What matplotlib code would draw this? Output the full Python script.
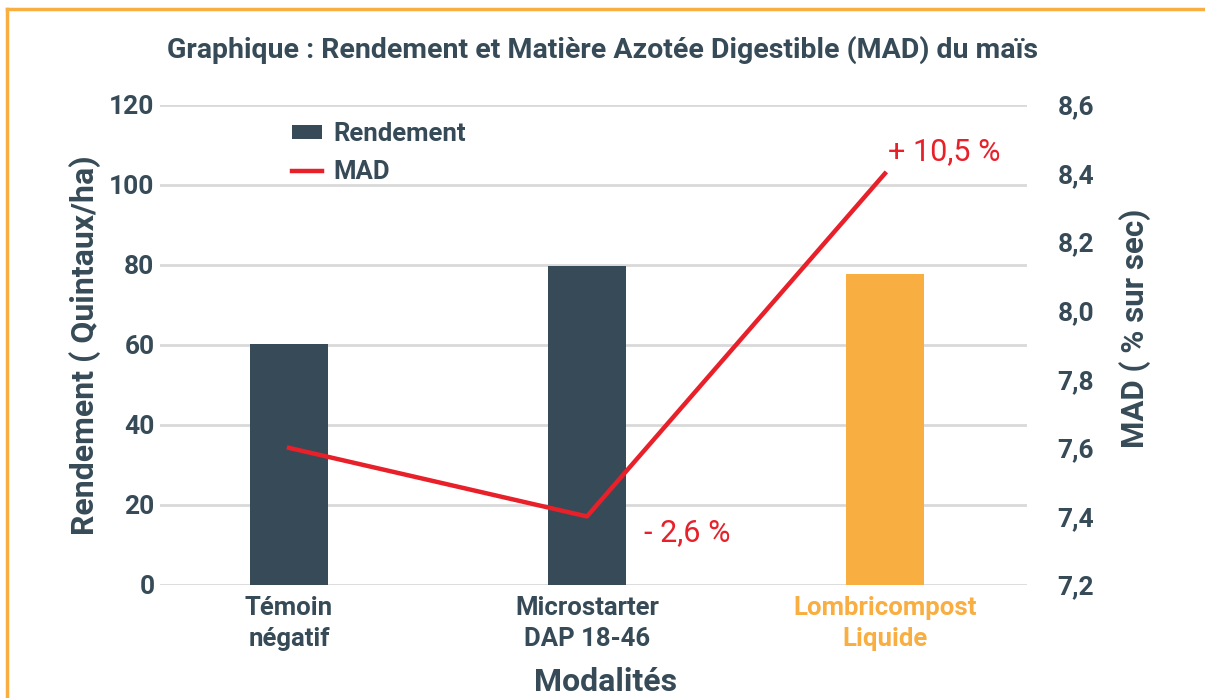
import numpy as np
import matplotlib
matplotlib.use('Agg')
import matplotlib.pyplot as plt
from matplotlib.lines import Line2D
from matplotlib.patches import Patch

plt.rcParams['font.family'] = ['Roboto', 'DejaVu Sans']

# Data
categories = ['Témoin\nnégatif', 'Microstarter\nDAP 18-46', 'Lombricompost\nLiquide']
rendement = [60.2, 79.8, 77.7]
mad = [7.6, 7.4, 8.4]
mad_labels = ['', '- 2,6 %', '+ 10,5 %']

DARK = '#364b57'
ORANGE = '#f9ae42'
RED = '#e8202a'
GRID = '#d9d9d9'

fig = plt.figure(figsize=(12.05, 6.98), dpi=100)
ax = fig.add_axes([160 / 1205, 1 - 585 / 698, 867 / 1205, 480 / 698])
ax2 = ax.twinx()

x = np.arange(len(categories))
bar_colors = [DARK, DARK, ORANGE]
ax.bar(x, rendement, width=0.26, color=bar_colors, zorder=3)
ax.set_xlim(-0.433, 2.477)
ax.set_ylim(0, 120)
ax.set_yticks(np.arange(0, 121, 20))
ax.grid(axis='y', color=GRID, linewidth=2, zorder=0)
ax.set_axisbelow(True)
for s in ax.spines.values():
    s.set_visible(False)
for s in ax2.spines.values():
    s.set_visible(False)

ax.tick_params(axis='y', length=0, pad=4, labelsize=19, labelcolor=DARK)
ax.tick_params(axis='x', length=0, pad=8, labelsize=18.5, labelcolor=DARK)
for lab in ax.get_yticklabels():
    lab.set_fontweight('bold')
ax.set_xticks(x)
ax.set_xticklabels(categories, fontweight='bold', linespacing=1.38)
ax.get_xticklabels()[2].set_color(ORANGE)

ax.set_ylabel('Rendement ( Quintaux/ha)', fontsize=23, fontweight='bold', color=DARK)
ax.yaxis.set_label_coords((85 - 160) / 867, 0.5)
ax.yaxis.label.set_va('center')
ax.set_xlabel('Modalités', fontsize=23, fontweight='bold', color=DARK)
ax.xaxis.set_label_coords((606 - 160) / 867, (585 - 682) / 480)
ax.xaxis.label.set_va('center')

# MAD line
ax2.plot(x, mad, color=RED, linewidth=3.2, zorder=4)
ax2.set_ylim(7.2, 8.6)
ax2.set_yticks(np.arange(7.2, 8.61, 0.2))
ax2.set_yticklabels([f'{v:.1f}'.replace('.', ',') for v in np.arange(7.2, 8.61, 0.2)],
                    fontweight='bold')
ax2.tick_params(axis='y', length=0, pad=22, labelsize=19, labelcolor=DARK)
ax2.set_ylabel('MAD ( % sur sec)', fontsize=22.5, fontweight='bold', color=DARK)
ax2.yaxis.set_label_coords((1135 - 160) / 867, (585 - 328) / 480)
ax2.yaxis.label.set_va('center')

ax2.annotate(mad_labels[1], (x[1], mad[1]), xytext=(41, -12), textcoords='offset points',
             color=RED, fontsize=22, ha='left', va='center')
ax2.annotate(mad_labels[2], (x[2], mad[2]), xytext=(2, 16), textcoords='offset points',
             color=RED, fontsize=22, ha='left', va='center')

fig.suptitle('Graphique : Rendement et Matière Azotée Digestible (MAD) du maïs',
             x=0.5, y=1 - 50 / 698, va='center', fontsize=20.5, fontweight='bold', color=DARK)

handles = [Patch(facecolor=DARK), Line2D([0], [0], color=RED, linewidth=3.2)]
fig.legend(handles, ['Rendement', 'MAD'], loc='upper left',
           bbox_to_anchor=(269 / 1205, 1 - 99 / 698), frameon=False,
           prop={'weight': 'bold', 'size': 18.5}, labelcolor=DARK,
           handlelength=1.17, handleheight=0.5, handletextpad=0.45, labelspacing=0.54)

# orange frame
x0 = 7 / 1205
ytop = 1 - 9 / 698
fig.add_artist(Line2D([x0, x0], [0, ytop], color=ORANGE, linewidth=2.5))
fig.add_artist(Line2D([x0, 1], [ytop, ytop], color=ORANGE, linewidth=2.5))

fig.savefig('out.png', dpi=100)
